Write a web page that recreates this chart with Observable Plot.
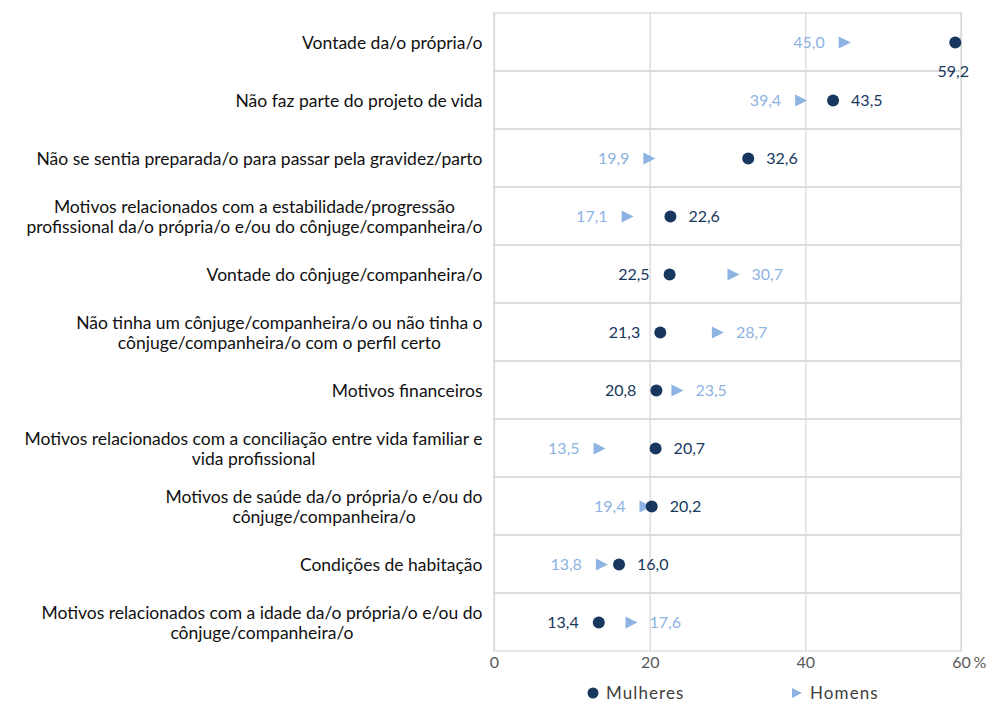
<!DOCTYPE html>
<html>
<head>
<meta charset="utf-8">
<script src="https://cdn.jsdelivr.net/npm/d3@7"></script>
<script src="https://cdn.jsdelivr.net/npm/@observablehq/plot@0.6"></script>
<style>
  html, body { margin: 0; padding: 0; background: #fff; }
  #wrap { position: relative; width: 987px; height: 702px; font-family: Lato, "Open Sans", sans-serif; }
  #legend { position: absolute; left: 0; top: 684px; width: 987px; height: 18px; font-size: 17px; color: #404040; }
  .li { position: absolute; top: 0; display: flex; align-items: center; gap: 7px; letter-spacing: 1.1px; line-height: 18px; }
</style>
</head>
<body>
<div id="wrap">
  <div id="chart"></div>
  <div id="legend"></div>
</div>
<script>
const categories = [
  "Vontade da/o própria/o",
  "Não faz parte do projeto de vida",
  "Não se sentia preparada/o para passar pela gravidez/parto",
  "Motivos relacionados com a estabilidade/progressão\nprofissional da/o própria/o e/ou do cônjuge/companheira/o",
  "Vontade do cônjuge/companheira/o",
  "Não tinha um cônjuge/companheira/o ou não tinha o\ncônjuge/companheira/o com o perfil certo",
  "Motivos financeiros",
  "Motivos relacionados com a conciliação entre vida familiar e\nvida profissional",
  "Motivos de saúde da/o própria/o e/ou do\ncônjuge/companheira/o",
  "Condições de habitação",
  "Motivos relacionados com a idade da/o própria/o e/ou do\ncônjuge/companheira/o"
];
const mulheres = [59.2, 43.5, 32.6, 22.6, 22.5, 21.3, 20.8, 20.7, 20.2, 16.0, 13.4];
const homens   = [45.0, 39.4, 19.9, 17.1, 30.7, 28.7, 23.5, 13.5, 19.4, 13.8, 17.6];
const seriesNames = ["Mulheres", "Homens"];
const xTicks = [0, 20, 40, 60];

const cM = "#17375e";
const cH = "#8db3e2";

const fmt = v => v.toFixed(1).replace(".", ",");

const rows = [];
categories.forEach((c, i) => {
  const m = mulheres[i], h = homens[i];
  rows.push({cat: c, serie: "Mulheres", v: m, side: m > 57 ? "below" : (m >= h ? "right" : "left")});
  rows.push({cat: c, serie: "Homens", v: h, side: h > 57 ? "below" : (h > m ? "right" : "left")});
});

const triRight = {
  draw(context, size) {
    const r = Math.sqrt(size / Math.PI);
    context.moveTo(-r, -r);
    context.lineTo(r, 0);
    context.lineTo(-r, r);
    context.closePath();
  }
};

const font = "Lato, 'Open Sans', sans-serif";
const numSize = 16;

const chart = Plot.plot({
  width: 987,
  height: 683,
  marginLeft: 494,
  marginRight: 26,
  marginTop: 12,
  marginBottom: 32,
  style: {fontFamily: font, fontSize: "16px", background: "#fff"},
  x: {domain: [0, 60]},
  y: {domain: categories, padding: 0},
  marks: [
    Plot.barX(categories, {x1: 0, x2: 60, y: d => d, fill: "none", stroke: "#d9d9d9", strokeWidth: 1.3}),
    Plot.ruleX(xTicks, {stroke: "#d9d9d9", strokeWidth: 1.3}),
    Plot.axisX({ticks: xTicks, tickSize: 0, tickPadding: 5, fill: "#595959", fontSize: numSize, label: null}),
    Plot.text(["%"], {x: [60], frameAnchor: "bottom", lineAnchor: "top", dy: 5, dx: 12, fill: "#595959", fontSize: numSize, textAnchor: "start"}),
    Plot.axisY({tickSize: 0, tickPadding: 12, fill: "#111", fontSize: 17.5, lineHeight: 1.14, label: null}),
    Plot.dot(rows.filter(d => d.serie === "Homens"), {x: "v", y: "cat", symbol: triRight, r: 6, fill: cH, stroke: "none"}),
    Plot.dot(rows.filter(d => d.serie === "Mulheres"), {x: "v", y: "cat", symbol: "circle", r: 6, fill: cM, stroke: "none"}),
    Plot.text(rows.filter(d => d.side === "left"), {x: "v", y: "cat", text: d => fmt(d.v), textAnchor: "end", dx: -20, fill: d => d.serie === "Mulheres" ? cM : cH, fontSize: numSize}),
    Plot.text(rows.filter(d => d.side === "right"), {x: "v", y: "cat", text: d => fmt(d.v), textAnchor: "start", dx: 18, fill: d => d.serie === "Mulheres" ? cM : cH, fontSize: numSize}),
    Plot.text(rows.filter(d => d.side === "below"), {x: "v", y: "cat", text: d => fmt(d.v), textAnchor: "middle", dx: -2, dy: 29, fill: d => d.serie === "Mulheres" ? cM : cH, fontSize: numSize})
  ]
});
document.getElementById("chart").appendChild(chart);

// center multi-line y tick labels (block right-aligned, lines centered)
chart.querySelectorAll('g[aria-label="y-axis tick label"] text').forEach(t => {
  const spans = t.querySelectorAll("tspan");
  if (spans.length < 2) return;
  let w = 0;
  spans.forEach(s => { w = Math.max(w, s.getComputedTextLength()); });
  t.setAttribute("text-anchor", "middle");
  spans.forEach(s => s.setAttribute("x", -w / 2));
});

// legend
const legend = document.getElementById("legend");
const legendPos = [587, 791];
seriesNames.forEach((name, i) => {
  const el = document.createElement("div");
  el.className = "li";
  el.style.left = legendPos[i] + "px";
  const icon = i === 0
    ? `<svg width="12" height="12"><circle cx="6" cy="6" r="5.5" fill="${cM}"/></svg>`
    : `<svg width="12" height="12"><path d="M1,1L11,6L1,11Z" fill="${cH}"/></svg>`;
  el.innerHTML = icon + `<span>${name}</span>`;
  legend.appendChild(el);
});
</script>
</body>
</html>
